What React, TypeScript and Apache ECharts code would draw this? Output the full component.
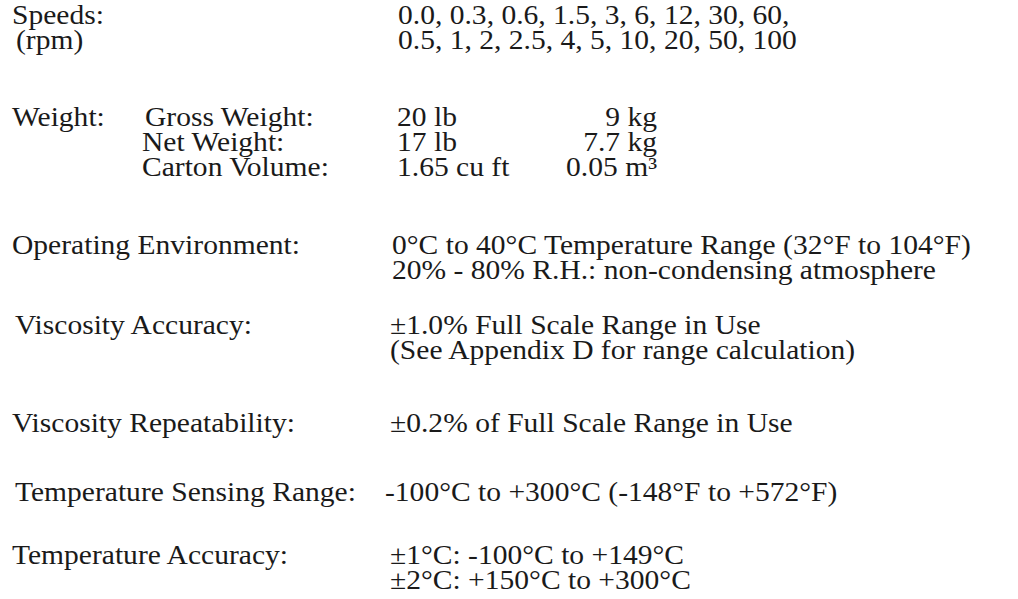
import React, { useEffect, useRef } from "react";
import * as echarts from "echarts";

// ---- content ----
const speedsLabel = ["Speeds:", "(rpm)"];
const speedsRow1 = ["0.0", "0.3", "0.6", "1.5", "3", "6", "12", "30", "60"];
const speedsRow2 = ["0.5", "1", "2", "2.5", "4", "5", "10", "20", "50", "100"];

const weightTitle = "Weight:";
const weightLabels = ["Gross Weight:", "Net Weight:", "Carton Volume:"];
const weightImperial = ["20 lb", "17 lb", "1.65 cu ft"];
const weightMetric = ["9 kg", "7.7 kg", "0.05 m³"];

const specLabels = [
  "Operating Environment:",
  "Viscosity Accuracy:",
  "Viscosity Repeatability:",
  "Temperature Sensing Range:",
  "Temperature Accuracy:",
];
const specValues = [
  ["0°C to 40°C Temperature Range (32°F to 104°F)", "20% - 80% R.H.: non-condensing atmosphere"],
  ["±1.0% Full Scale Range in Use", "(See Appendix D for range calculation)"],
  ["±0.2% of Full Scale Range in Use"],
  ["-100°C to +300°C (-148°F to +572°F)"],
  ["±1°C: -100°C to +149°C", "±2°C: +150°C to +300°C"],
];

// ---- layout ----
const FONT = "'Liberation Serif', 'Times New Roman', serif";
const SIZE = 27.5;
const STRETCH = 1.075;
const COLOR = "#1a1a1a";
const LINE = 25;
const LEFT_X = 12;
const SPEED_LABEL_X = [12, 16];
const SPEED_VAL_X = 398;
const WEIGHT_LABEL_X = [145, 142, 142];
const WEIGHT_IMP_X = 397;
const WEIGHT_MET_RIGHT = 657;
const SPEC_LABEL_X = [12, 15, 12, 15, 12];
const SPEC_VAL_X = [392, 390, 390, 385, 390];
const SPEEDS_Y = 15;
const WEIGHT_Y = 117;
const SPEC_Y = [245, 325, 423, 492, 555];

function txt(text: string, x: number, y: number, align: string = "left") {
  return {
    type: "text",
    x,
    y,
    scaleX: STRETCH,
    style: {
      text,
      fill: COLOR,
      font: `${SIZE}px ${FONT}`,
      lineHeight: LINE - 1,
      align,
      verticalAlign: "middle",
    },
  };
}

export default function App() {
  const ref = useRef<HTMLDivElement>(null);
  useEffect(() => {
    document.body.style.margin = "0";
    if (!ref.current) return;
    const chart = echarts.init(ref.current, null, { renderer: "svg" });
    const els: any[] = [];
    els.push(txt(speedsLabel[0], SPEED_LABEL_X[0], SPEEDS_Y));
    els.push(txt(speedsLabel[1], SPEED_LABEL_X[1], SPEEDS_Y + LINE));
    els.push(txt(speedsRow1.join(", ") + ",", SPEED_VAL_X, SPEEDS_Y));
    els.push(txt(speedsRow2.join(", "), SPEED_VAL_X, SPEEDS_Y + LINE));

    els.push(txt(weightTitle, LEFT_X, WEIGHT_Y));
    weightLabels.forEach((l, i) => {
      els.push(txt(l, WEIGHT_LABEL_X[i], WEIGHT_Y + i * LINE));
      els.push(txt(weightImperial[i], WEIGHT_IMP_X, WEIGHT_Y + i * LINE));
      els.push(txt(weightMetric[i], WEIGHT_MET_RIGHT, WEIGHT_Y + i * LINE, "right"));
    });

    specLabels.forEach((l, i) => {
      els.push(txt(l, SPEC_LABEL_X[i], SPEC_Y[i]));
      specValues[i].forEach((v, j) => {
        els.push(txt(v, SPEC_VAL_X[i], SPEC_Y[i] + j * LINE));
      });
    });

    chart.setOption({
      animation: false,
      backgroundColor: "#ffffff",
      graphic: { elements: els },
    });
    return () => chart.dispose();
  }, []);
  return <div ref={ref} style={{ width: 1018, height: 599 }} />;
}
